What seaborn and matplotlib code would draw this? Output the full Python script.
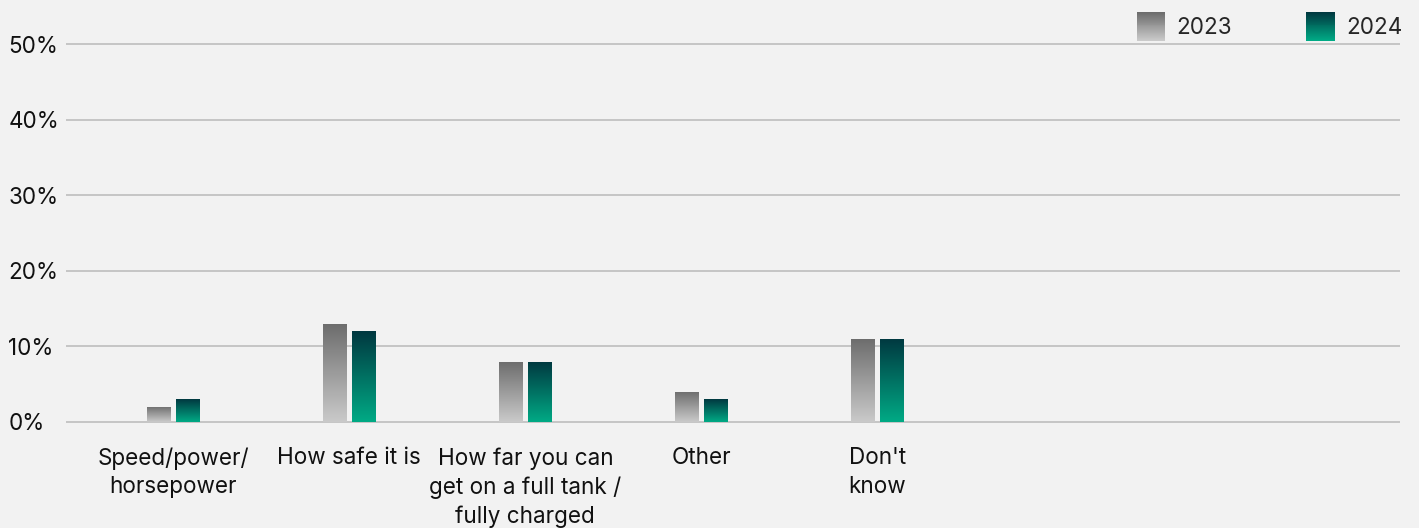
import numpy as np
import pandas as pd
import seaborn as sns
import matplotlib.pyplot as plt
from matplotlib.patches import Rectangle
from matplotlib.legend_handler import HandlerBase
from matplotlib.colors import LinearSegmentedColormap

categories = ["Speed/power/\nhorsepower", "How safe it is",
              "How far you can\nget on a full tank /\nfully charged",
              "Other", "Don't\nknow"]
years = ["2023", "2024"]
v2023 = [2, 13, 8, 4, 11]
v2024 = [3, 12, 8, 3, 11]
yticks = [0, 10, 20, 30, 40, 50]

# top -> bottom gradient colours per series
grad = {"2023": ("#6c6c6c", "#cacaca"), "2024": ("#003840", "#00aa85")}
bg = "#f2f2f2"
fs = 16.2

df = pd.DataFrame({
    "cat": categories * 2,
    "year": [years[0]] * len(categories) + [years[1]] * len(categories),
    "val": v2023 + v2024,
})

sns.set_style("white")
plt.rcParams["font.family"] = ["Inter", "DejaVu Sans"]

fig = plt.figure(figsize=(14.19, 5.28), dpi=100, facecolor=bg)
ax = fig.add_axes([66 / 1419, (528 - 423.5) / 528, (1400 - 66) / 1419, (423.5 - 42.5) / 528])
ax.set_facecolor(bg)

sns.barplot(data=df, x="cat", y="val", hue="year", order=categories, hue_order=years,
            palette=[grad["2023"][0], grad["2024"][0]], width=0.324, gap=0.16,
            legend=False, ax=ax, zorder=3)

# replace flat fills with vertical gradients
ramp = np.linspace(0, 1, 256).reshape(-1, 1)
bars = list(ax.patches)
n = len(categories)
for i, p in enumerate(bars):
    yr = years[i // n]
    cmap = LinearSegmentedColormap.from_list(yr, [grad[yr][0], grad[yr][1]])
    x0, y0 = p.get_x(), p.get_y()
    w, h = p.get_width(), p.get_height()
    p.set_facecolor("none")
    p.set_edgecolor("none")
    im = ax.imshow(ramp, cmap=cmap, extent=(x0, x0 + w, y0, y0 + h), aspect="auto",
                   origin="upper", zorder=3, interpolation="bilinear")
    im.set_clip_path(p)

ax.set_xlim(-0.61, 6.97)
ax.set_ylim(-0.2, 50.2)
ax.set_yticks(yticks)
ax.set_yticklabels([f"{t}%" for t in yticks])
ax.yaxis.grid(True, color="#c2c2c2", linewidth=1.3, zorder=1)
ax.set_axisbelow(True)
ax.set_xlabel("")
ax.set_ylabel("")
for s in ax.spines.values():
    s.set_visible(False)
ax.tick_params(axis="both", length=0, labelsize=fs, colors="#111111")
ax.tick_params(axis="x", pad=17)
ax.tick_params(axis="y", pad=41.5)
for lab in ax.get_yticklabels():
    lab.set_horizontalalignment("left")
for lab in ax.get_xticklabels():
    lab.set_linespacing(1.38)
    lab.set_verticalalignment("top")


class GradHandler(HandlerBase):
    def create_artists(self, legend, orig_handle, xdescent, ydescent, width, height,
                       fontsize, trans):
        top, bot = grad[orig_handle.get_label()]
        cmap = LinearSegmentedColormap.from_list("h", [bot, top])
        k = 30
        arts = []
        for j in range(k):
            arts.append(Rectangle((-xdescent, -ydescent + height * j / k), width,
                                  height / k + 0.3, facecolor=cmap(j / (k - 1)),
                                  edgecolor="none", transform=trans))
        return arts


handles = [Rectangle((0, 0), 1, 1, label=y) for y in years]
fig.legend(handles=handles, labels=years, handler_map={Rectangle: GradHandler()},
           loc="upper right", bbox_to_anchor=(1411 / 1419, 1 - 3 / 528), ncol=2,
           frameon=False, fontsize=fs, handlelength=1.25, handleheight=1.6,
           handletextpad=0.5, columnspacing=3.3, borderaxespad=0)

fig.savefig("out.png", dpi=100, facecolor=bg)
